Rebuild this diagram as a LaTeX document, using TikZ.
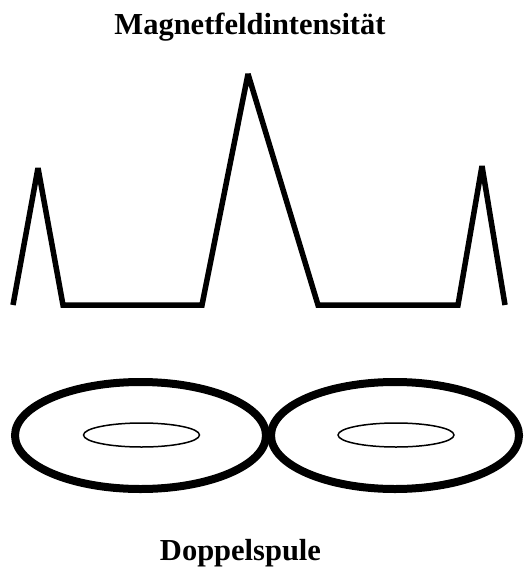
\documentclass[tikz,border=0pt]{standalone}
\usepackage{fontspec}
\setmainfont{Liberation Serif}
\begin{document}
\begin{tikzpicture}[x=1pt,y=-1pt,
  curve/.style={line width=5.5pt,line join=miter,miter limit=3},
  outer/.style={line width=8pt},
  inner/.style={line width=1.5pt},
  label/.style={anchor=base,inner sep=0pt,font=\bfseries\fontsize{30.5}{36}\selectfont}]
\useasboundingbox (0,0) rectangle (528,567);
\node[label] (title) at (250,35) {Magnetfeldintensität};
\node[label] (sub) at (240.5,560) {Doppelspule};
\draw[curve] (13,305) -- (38,168) -- (63,305) -- (202,305) -- (248,74) -- (318,305) -- (458,305) -- (482,166) -- (505,305);
\draw[outer] (140.5,435.5) ellipse [x radius=125.5, y radius=53.5];
\draw[outer] (395,435.5) ellipse [x radius=124, y radius=53.5];
\draw[inner] (141.5,435) ellipse [x radius=58, y radius=12];
\draw[inner] (396,435) ellipse [x radius=58, y radius=12];
\end{tikzpicture}
\end{document}
